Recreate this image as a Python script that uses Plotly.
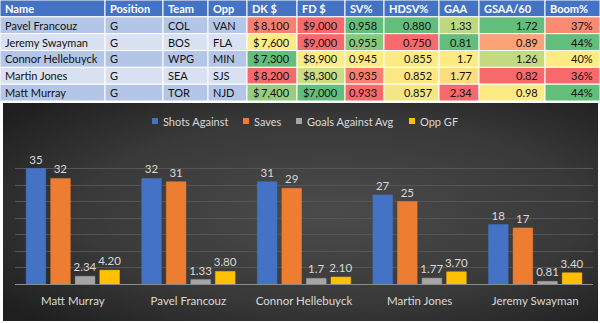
import plotly.graph_objects as go
from urllib.parse import quote

# ---------------- data ----------------
names = ["Pavel Francouz", "Jeremy Swayman", "Connor Hellebuyck", "Martin Jones", "Matt Murray"]
position = ["G", "G", "G", "G", "G"]
team = ["COL", "BOS", "WPG", "SEA", "TOR"]
opp = ["VAN", "FLA", "MIN", "SJS", "NJD"]
dk = [8100, 7600, 7300, 8200, 7400]
fd = [9000, 9000, 8900, 8300, 7000]
sv = [0.958, 0.955, 0.945, 0.935, 0.933]
hdsv = [0.880, 0.750, 0.855, 0.852, 0.857]
gaa = [1.33, 0.81, 1.7, 1.77, 2.34]
gsaa = [1.72, 0.89, 1.26, 0.82, 0.98]
boom = [0.37, 0.44, 0.40, 0.36, 0.44]
headers = ["Name", "Position", "Team", "Opp", "DK $", "FD $", "SV%", "HDSV%", "GAA", "GSAA/60", "Boom%"]

chart_players = ["Matt Murray", "Pavel Francouz", "Connor Hellebuyck", "Martin Jones", "Jeremy Swayman"]
shots_against = [35, 32, 31, 27, 18]
saves = [32, 31, 29, 25, 17]
goals_against_avg = [2.34, 1.33, 1.7, 1.77, 0.81]
opp_gf = [4.20, 3.80, 2.10, 3.70, 3.40]

# ---------------- styling ----------------
col_widths = [105, 58, 45, 39, 50, 48, 39, 55, 40, 66, 55]
legend_x = [152, 243, 296, 409]          # pixel x of each legend swatch
FONT = "Lato"
W, H = 600.0, 323.0

RED, YEL, GRN = (248, 105, 107), (255, 235, 132), (99, 190, 123)

def mix(a, b, t):
    return "rgb(%d,%d,%d)" % tuple(round(a[i] + (b[i] - a[i]) * t) for i in range(3))

def scale3(vals, high_good=True):
    s = sorted(vals)
    lo, med, hi = s[0], s[len(s) // 2], s[-1]
    low_c, high_c = (RED, GRN) if high_good else (GRN, RED)
    out = []
    for v in vals:
        if v <= med:
            t = 0 if med == lo else (v - lo) / (med - lo)
            out.append(mix(low_c, YEL, t))
        else:
            t = 0 if hi == med else (v - med) / (hi - med)
            out.append(mix(YEL, high_c, t))
    return out

band = ["#B4C6E7" if i % 2 == 0 else "#D9E1F2" for i in range(len(names))]
fills = [band, band, band, band,
         scale3(dk, False), scale3(fd, False), scale3(sv, True), scale3(hdsv, True),
         scale3(gaa, False), scale3(gsaa, True), scale3(boom, True)]

texts = [names, position, team, opp,
         ["{:,}".format(v) for v in dk], ["{:,}".format(v) for v in fd],
         ["%.3f" % v for v in sv], ["%.3f" % v for v in hdsv],
         [("%g" % v) for v in gaa], ["%.2f" % v for v in gsaa],
         ["%d%%" % round(v * 100) for v in boom]]
kinds = ["l", "l", "l", "l", "$", "$", "r", "r", "r", "r", "r"]

fig = go.Figure()

# ---------------- table (drawn on its own axes: x = pixels across, y = row index) ----------------
shapes = []
annotations = []
edges = [0]
for w in col_widths:
    edges.append(edges[-1] + w)

tfont = dict(family=FONT, size=11, color="#111111")
for c, h in enumerate(headers):
    x0, x1 = edges[c], edges[c + 1]
    shapes.append(dict(type="rect", xref="x2", yref="y2", x0=x0, x1=x1, y0=0, y1=1,
                       fillcolor="#4472C4", line=dict(color="white", width=1), layer="below"))
    annotations.append(dict(xref="x2", yref="y2", x=x0 + 3, y=0.5, text="<b>%s</b>" % h,
                            xanchor="left", yanchor="middle", showarrow=False,
                            font=dict(family=FONT, size=11, color="white")))
    for r in range(len(names)):
        y0 = r + 1
        shapes.append(dict(type="rect", xref="x2", yref="y2", x0=x0, x1=x1, y0=y0, y1=y0 + 1,
                           fillcolor=fills[c][r], line=dict(color="white", width=1), layer="below"))
        k = kinds[c]
        if k == "l":
            annotations.append(dict(xref="x2", yref="y2", x=x0 + 3, y=y0 + 0.5, text=texts[c][r],
                                    xanchor="left", yanchor="middle", showarrow=False, font=tfont))
        else:
            if k == "$":
                annotations.append(dict(xref="x2", yref="y2", x=x0 + 4, y=y0 + 0.5, text="$",
                                        xanchor="left", yanchor="middle", showarrow=False, font=tfont))
            annotations.append(dict(xref="x2", yref="y2", x=x1 - 5, y=y0 + 0.5, text=texts[c][r],
                                    xanchor="right", yanchor="middle", showarrow=False, font=tfont))

# ---------------- bar chart ----------------
series = [
    ("Shots Against", shots_against, "#4472C4", "%{y}"),
    ("Saves", saves, "#ED7D31", "%{y}"),
    ("Goals Against Avg", goals_against_avg, "#A5A5A5", "%{y}"),
    ("Opp GF", opp_gf, "#FFC000", "%{y:.2f}"),
]
for i, (name, vals, col, tt) in enumerate(series):
    fig.add_trace(go.Bar(
        x=chart_players, y=vals, name=name, showlegend=False,
        marker=dict(color=col, line=dict(color=col, width=0.5)),
        texttemplate=tt, textposition="outside", cliponaxis=False, constraintext="none",
        textfont=dict(family=FONT, size=11.5, color="#D9D9D9"),
    ))
    # legend entry: swatch + label
    lx = legend_x[i]
    shapes.append(dict(type="rect", xref="paper", yref="paper",
                       x0=lx / W, x1=(lx + 6) / W, y0=1 - 124 / H, y1=1 - 118 / H,
                       fillcolor=col, line=dict(width=0)))
    annotations.append(dict(xref="paper", yref="paper", x=(lx + 9) / W, y=1 - 121 / H,
                            text=name, xanchor="left", yanchor="middle", showarrow=False,
                            font=dict(family=FONT, size=11, color="#D9D9D9")))

svg = ('<svg xmlns="http://www.w3.org/2000/svg" width="595" height="218" preserveAspectRatio="none">'
       '<defs><radialGradient id="g" cx="55%" cy="50%" r="70%">'
       '<stop offset="0" stop-color="#4b4b4b"/><stop offset="0.6" stop-color="#393939"/>'
       '<stop offset="1" stop-color="#1f1f1f"/></radialGradient></defs>'
       '<rect width="595" height="218" fill="url(#g)"/></svg>')
img_src = "data:image/svg+xml;charset=utf-8," + quote(svg)

fig.update_layout(
    width=600, height=323,
    margin=dict(l=0, r=0, t=0, b=0),
    paper_bgcolor="white", plot_bgcolor="rgba(0,0,0,0)",
    barmode="group", bargap=0.15, bargroupgap=0.2,
    font=dict(family=FONT, size=12, color="#D9D9D9"),
    shapes=shapes, annotations=annotations, showlegend=False,
    images=[dict(source=img_src, xref="paper", yref="paper",
                 x=3 / W, y=1 - 103 / H, sizex=595 / W, sizey=218 / H,
                 xanchor="left", yanchor="top", sizing="stretch", layer="below")],
    xaxis=dict(domain=[15 / W, 593 / W], showline=True, linecolor="#8C8C8C", linewidth=1,
               ticks="", tickfont=dict(family=FONT, size=11.5, color="#D9D9D9"),
               ticklabelstandoff=6, showgrid=False, fixedrange=True, anchor="y"),
    yaxis=dict(domain=[1 - 284 / H, 1 - 152 / H], range=[0, 40], dtick=5,
               showticklabels=False, showgrid=True, gridcolor="#555555", gridwidth=1,
               zeroline=False, fixedrange=True, anchor="x"),
    xaxis2=dict(domain=[0, 1], range=[0, 600], visible=False, fixedrange=True, anchor="y2"),
    yaxis2=dict(domain=[1 - 101 / H, 1], range=[len(names) + 1, 0], visible=False,
                fixedrange=True, anchor="x2"),
)

fig.write_html("out.html")
